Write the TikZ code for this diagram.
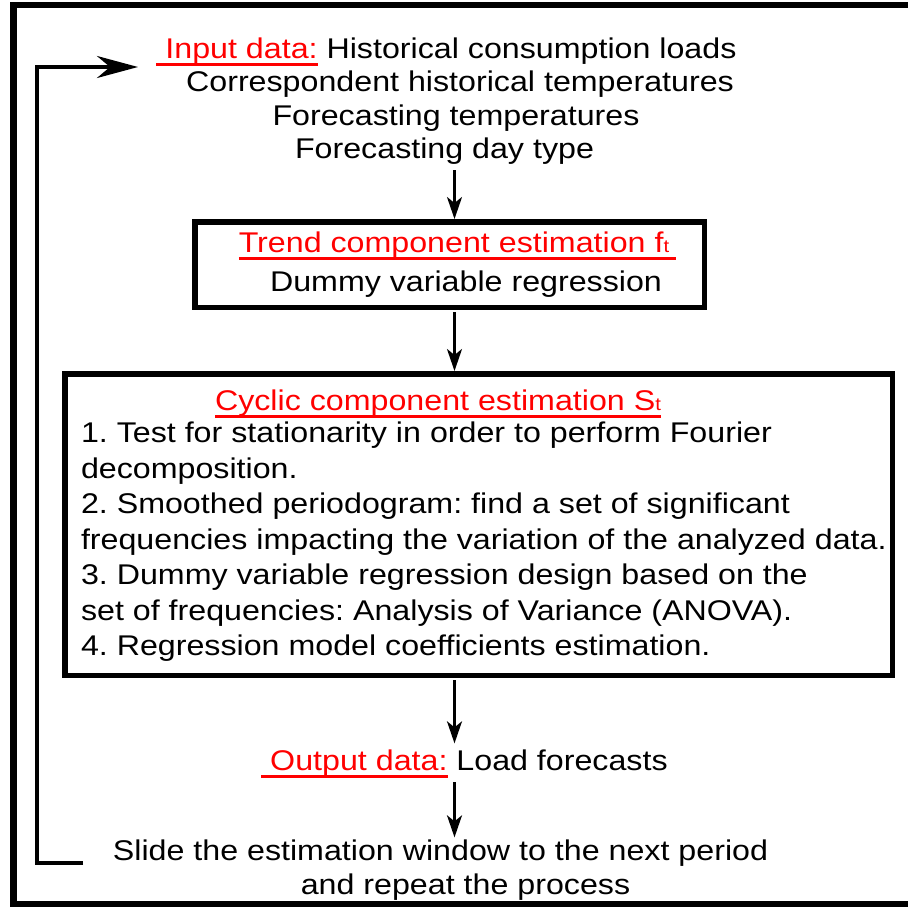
\documentclass[tikz,border=0pt]{standalone}
\usepackage{fontspec}
\setmainfont{Liberation Sans}[FakeStretch=1.13]
\usetikzlibrary{arrows.meta}
\definecolor{redtxt}{RGB}{255,0,0}
\newcommand\redul[2][0pt]{{\color{redtxt}\setbox0\hbox{#2\kern#1}\rlap{\rule[-7.5pt]{\wd0}{3pt}}#2}}
\newcommand\smallt{{\fontsize{18}{18}\selectfont t}}
\frenchspacing
\tikzset{
  txt/.style={inner sep=0pt, outer sep=0pt, anchor=base, font=\fontsize{28.5}{33}\selectfont},
  bigbox/.style={draw, line width=5.5pt, inner sep=0pt},
  varr/.style={line width=2.5pt, -{Stealth[length=22pt,width=15pt,inset=6pt]}},
  farr/.style={line width=3.5pt, -{Stealth[length=41pt,width=22pt,inset=13pt]}},
}
\begin{document}
\begin{tikzpicture}[x=1pt,y=-1pt]
\useasboundingbox (0,0) rectangle (908,907);
% outer frame
\draw[line width=6.5pt, line join=miter] (930,5) -- (13.5,5) -- (13.5,904) -- (930,904);

% boxes
\node[bigbox, minimum width=509.5pt, minimum height=85.5pt] (trendbox) at (449.5,264.5) {};
\node[bigbox, minimum width=827.5pt, minimum height=301.5pt] (cycbox) at (478.5,524.5) {};

% input text
\node[txt] (in1) at (446.5,59) {\redul{\ Input data:} Historical consumption loads};
\node[txt] (in2) at (460,92) {Correspondent historical temperatures};
\node[txt] (in3) at (456,125) {Forecasting temperatures};
\node[txt] (in4) at (444.5,158) {Forecasting day type};

% trend
\node[txt] (trendt) at (454,252) {\redul[7pt]{Trend component estimation f\smallt}};
\node[txt] (dummy) at (466,291) {Dummy variable regression};

% cyclic
\node[txt] (cyct) at (438,410) {\redul{Cyclic component estimation S\smallt}};
\node[txt, anchor=base west] (cycitems) at (81,442.5) {\vtop{\baselineskip=35.5pt\lineskiplimit=-100pt
  \hbox{1. Test for stationarity in order to perform Fourier}
  \hbox{decomposition.}
  \hbox{2. Smoothed periodogram: find a set of significant}
  \hbox{frequencies impacting the variation of the analyzed data.}
  \hbox{3. Dummy variable regression design based on the}
  \hbox{set of frequencies: Analysis of Variance (ANOVA).}
  \hbox{4. Regression model coefficients estimation.}}};

% output
\node[txt] (out) at (464.5,770) {\redul{\ Output data:} Load forecasts};
\node[txt] (slide1) at (440.5,860) {Slide the estimation window to the next period};
\node[txt] (slide2) at (465.5,894) {and repeat the process};

% connectors
\coordinate (ax) at (454.5,170);
\draw[varr] (ax) -- (ax |- trendbox.north);
\draw[varr] ([yshift=-2pt]trendbox.south -| ax) -- (ax |- cycbox.north);
\draw[varr] ([yshift=-2pt]cycbox.south -| ax) -- ([yshift=6pt]out.north -| ax);
\draw[varr] ([yshift=-4.5pt]out.south -| ax) -- ([yshift=2pt]slide1.north -| ax);

% feedback loop
\coordinate (fb0) at (83,863);
\coordinate (fbx) at (37,0);
\coordinate (fb1) at (138,67);
\draw[farr, line join=miter] (fb0) -- (fb0 -| fbx) |- (fb1);
\end{tikzpicture}
\end{document}
